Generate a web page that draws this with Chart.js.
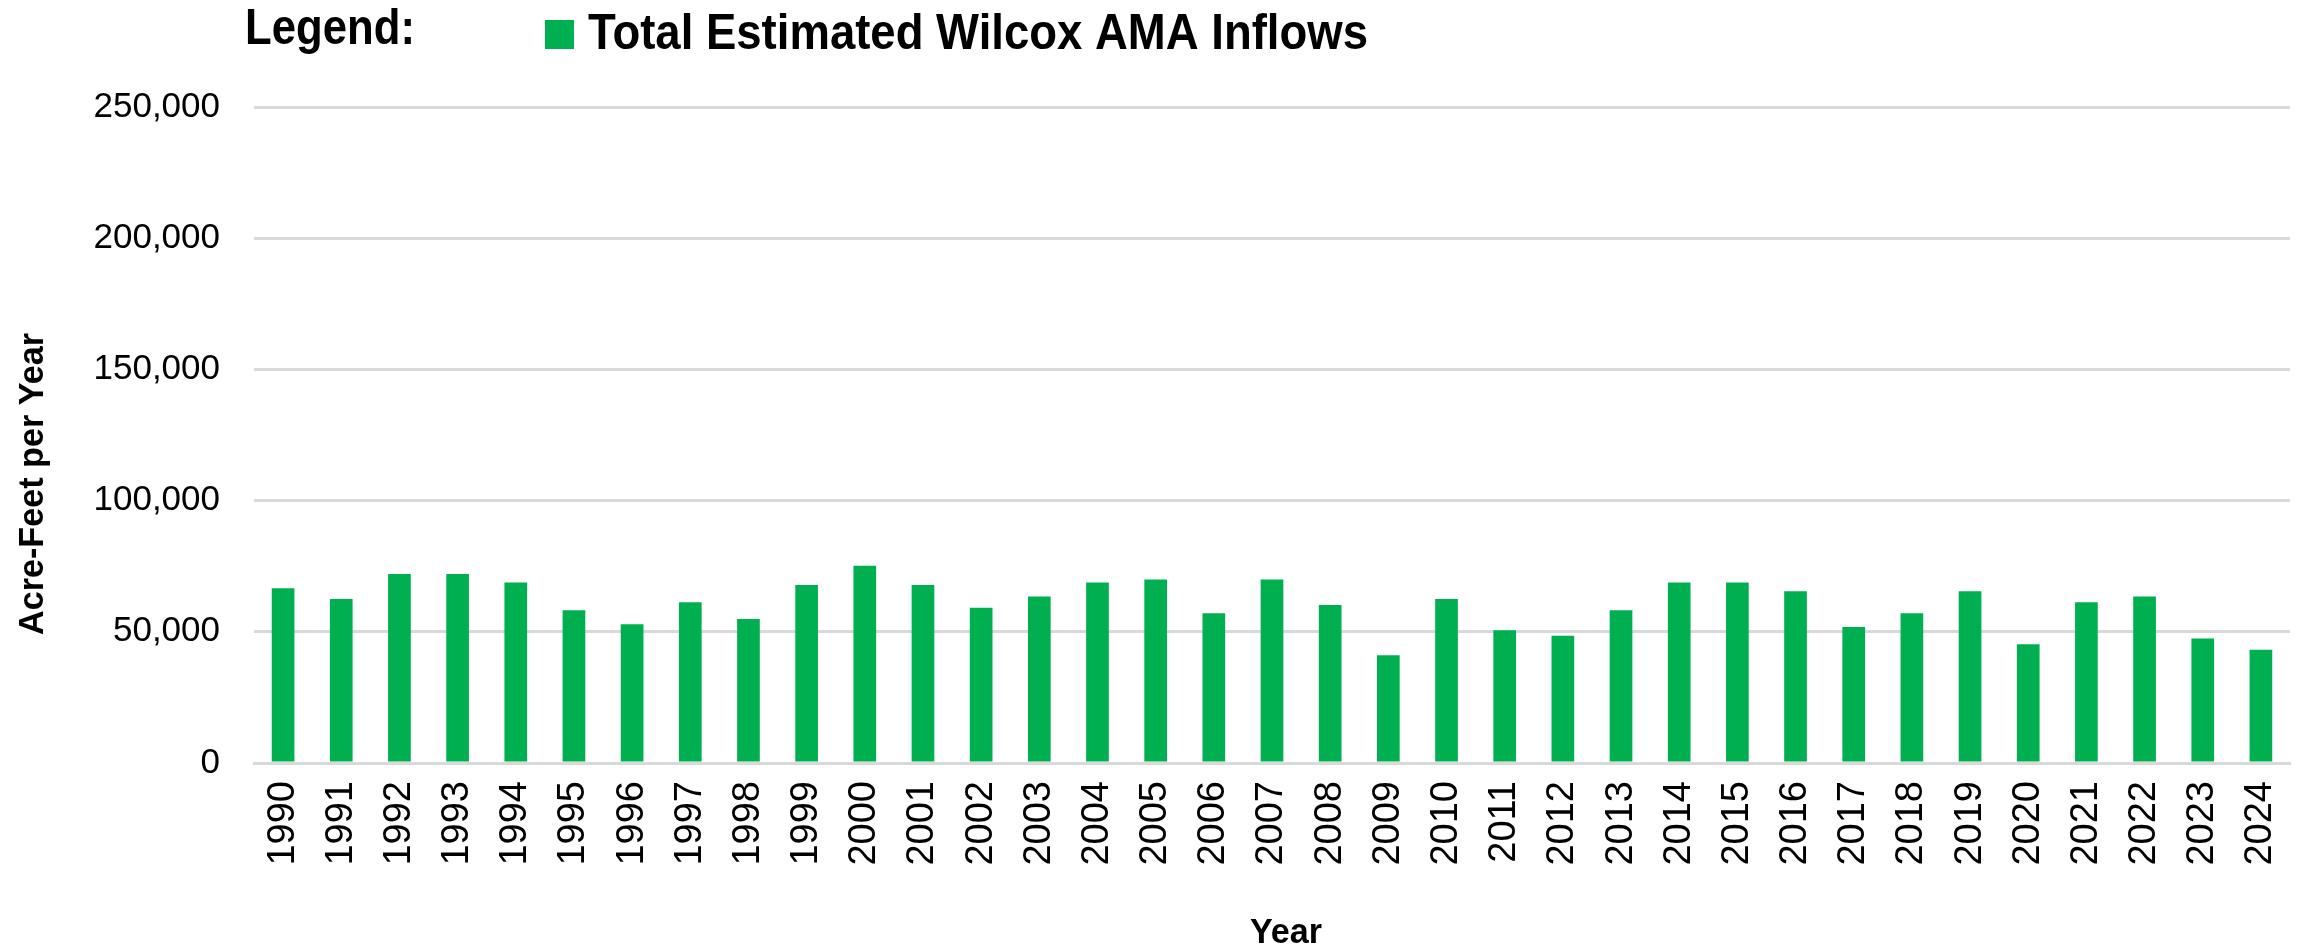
<!DOCTYPE html>
<html>
<head>
<meta charset="utf-8">
<script src="https://cdn.jsdelivr.net/npm/chart.js@4"></script>
<style>
  body { margin: 0; background: #fff; }
  canvas { display: block; }
</style>
</head>
<body>
<canvas id="chart" width="2305" height="950"></canvas>
<script>
const years = ['1990', '1991', '1992', '1993', '1994', '1995', '1996', '1997', '1998', '1999',
  '2000', '2001', '2002', '2003', '2004', '2005', '2006', '2007', '2008', '2009',
  '2010', '2011', '2012', '2013', '2014', '2015', '2016', '2017', '2018', '2019',
  '2020', '2021', '2022', '2023', '2024'];

const inflows = [66600, 62500, 72000, 72000, 68800, 58200, 52900, 61300, 54900, 67800,
  75200, 67800, 59200, 63500, 68800, 69900, 57100, 69900, 60200, 41100,
  62500, 50600, 48500, 58200, 68800, 68800, 65500, 51800, 57100, 65500,
  45300, 61300, 63500, 47400, 43200];

const yTickValues = [0, 50000, 100000, 150000, 200000, 250000];

const seriesLabel = 'Total Estimated Wilcox AMA Inflows';
const yTitle = 'Acre-Feet per Year';
const xTitle = 'Year';
const legendTitle = 'Legend:';

const GREEN = '#00b050';
const GRID = '#d9d9d9';
const FONT = '"Liberation Sans", Arial, sans-serif';

// draw text squeezed/stretched to a given width
function drawFitted(ctx, text, x, y, width, font) {
  ctx.save();
  ctx.font = font;
  ctx.fillStyle = '#000';
  ctx.textBaseline = 'alphabetic';
  const w = ctx.measureText(text).width;
  ctx.translate(x, y);
  ctx.scale(width / w, 1);
  ctx.fillText(text, 0, 0);
  ctx.restore();
}

const textPlugin = {
  id: 'texts',
  afterDraw(chart) {
    const ctx = chart.ctx;
    const ds = chart.data.datasets[0];
    const boldBig = 'bold 50px ' + FONT;
    const bold = 'bold 35px ' + FONT;

    drawFitted(ctx, legendTitle, 245, 44, 170, boldBig);
    ctx.fillStyle = ds.backgroundColor;
    ctx.fillRect(545, 20, 29, 29);
    drawFitted(ctx, ds.label, 588, 49, 780, boldBig);

    ctx.save();
    ctx.translate(43, 635);
    ctx.rotate(-Math.PI / 2);
    drawFitted(ctx, yTitle, 0, 0, 302, bold);
    ctx.restore();

    drawFitted(ctx, xTitle, 1250, 943, 72, bold);
  }
};

new Chart(document.getElementById('chart'), {
  type: 'bar',
  data: {
    labels: years,
    datasets: [{
      label: seriesLabel,
      data: inflows,
      backgroundColor: GREEN,
      borderWidth: 0,
      barPercentage: 0.39,
      categoryPercentage: 1
    }]
  },
  options: {
    responsive: false,
    animation: false,
    devicePixelRatio: 1,
    layout: { padding: { top: 107, right: 15, left: 0, bottom: 0 } },
    plugins: {
      legend: { display: false },
      title: { display: false },
      tooltip: { enabled: false }
    },
    scales: {
      x: {
        grid: { display: false, drawTicks: false },
        border: { display: true, color: GRID, width: 3 },
        ticks: {
          color: '#000',
          font: { family: FONT, size: 38 },
          minRotation: 90,
          maxRotation: 90,
          autoSkip: false,
          padding: 18
        },
        afterFit(scale) {
          scale.height = 187;
          scale.paddingLeft = 0;
          scale.paddingRight = 0;
        }
      },
      y: {
        min: 0,
        max: 250000,
        afterBuildTicks(scale) { scale.ticks = yTickValues.map(v => ({ value: v })); },
        grid: { color: GRID, lineWidth: 3, drawTicks: false },
        border: { display: false },
        ticks: {
          color: '#000',
          font: { family: FONT, size: 35 },
          padding: 34
        },
        afterFit(scale) { scale.width = 254; }
      }
    }
  },
  plugins: [textPlugin]
});
</script>
</body>
</html>
